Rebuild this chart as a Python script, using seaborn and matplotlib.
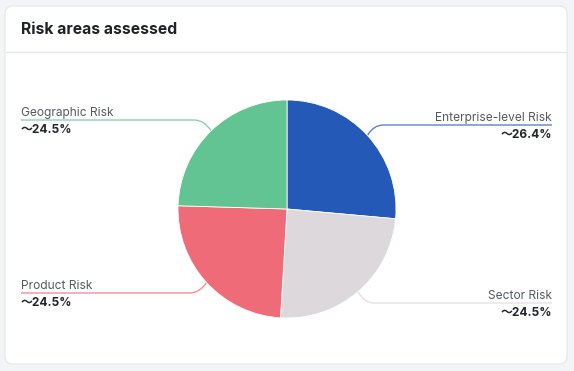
import matplotlib
matplotlib.use("Agg")
import matplotlib.pyplot as plt
import seaborn as sns
import numpy as np
from matplotlib.patches import FancyBboxPatch, PathPatch
from matplotlib.path import Path

# ---- data ----
categories = ["Enterprise-level Risk", "Sector Risk", "Product Risk", "Geographic Risk"]
values = [26.4, 24.5, 24.5, 24.5]
pct_labels = ["～26.4%", "～24.5%", "～24.5%", "～24.5%"]
title = "Risk areas assessed"

sns.set_theme(style="white")
palette = sns.color_palette(["#2559B8", "#DCD8DB", "#EF6B78", "#62C493"])
plt.rcParams['font.family'] = ['Inter', 'Noto Sans CJK SC', 'DejaVu Sans']

W, H = 574, 371
fig = plt.figure(figsize=(W / 100, H / 100), dpi=100)
fig.patch.set_facecolor("#F3F4F7")
ax = fig.add_axes([0, 0, 1, 1])
ax.set_xlim(0, W)
ax.set_ylim(0, H)
ax.set_aspect("equal")
ax.axis("off")

def Y(py):
    return H - py

# card
card = FancyBboxPatch((5, Y(364)), 562, 358, boxstyle="round,pad=0,rounding_size=8",
                      facecolor="white", edgecolor="#E4E6EB", lw=0.8, zorder=1)
ax.add_patch(card)
ax.plot([5.5, 566.5], [Y(52), Y(52)], color="#E5E7EB", lw=1, zorder=2)
ax.text(21, Y(30), title, fontsize=11.3, fontweight="bold", color="#1F2329",
        ha="left", va="center", zorder=3)

# pie
cx, cy, r = 287, 209, 109
wedges, _ = ax.pie(values, colors=palette, startangle=90, counterclock=False,
                   center=(cx, Y(cy)), radius=r, frame=True,
                   wedgeprops=dict(edgecolor="white", linewidth=0.6, zorder=3))
for w in wedges:
    w.set_zorder(3)
ax.set_xlim(0, W)
ax.set_ylim(0, H)
ax.axis("off")

# label layout: (line y in px, side)
layout = {
    "Enterprise-level Risk": (125, "right"),
    "Sector Risk": (303, "right"),
    "Product Risk": (293, "left"),
    "Geographic Risk": (120, "left"),
}

for w, name, pct, col in zip(wedges, categories, pct_labels, palette):
    mid = np.deg2rad((w.theta1 + w.theta2) / 2)
    ex = cx + r * np.cos(mid)
    ey = Y(cy) + r * np.sin(mid)
    ly, side = layout[name]
    yy = Y(ly)
    if side == "left":
        hx = ex - 17
        verts = [(21, yy), (hx, yy), (hx + 10, yy), (ex, ey)]
        tx, ha = 21, "left"
    else:
        hx = ex + 16
        verts = [(552, yy), (hx, yy), (hx - 10, yy), (ex, ey)]
        tx, ha = 552, "right"
    codes = [Path.MOVETO, Path.LINETO, Path.CURVE3, Path.CURVE3]
    ax.add_patch(PathPatch(Path(verts, codes), facecolor="none", edgecolor=col,
                           lw=1, alpha=0.75, zorder=2))
    ax.text(tx, yy + 4, name, fontsize=8.6, color="#555A60", ha=ha, va="baseline", zorder=4)
    ax.text(tx, yy - 13, pct, fontsize=8.6, fontweight="bold", color="#23262B",
            ha=ha, va="baseline", zorder=4)

fig.savefig("out.png", dpi=100, facecolor=fig.get_facecolor())
